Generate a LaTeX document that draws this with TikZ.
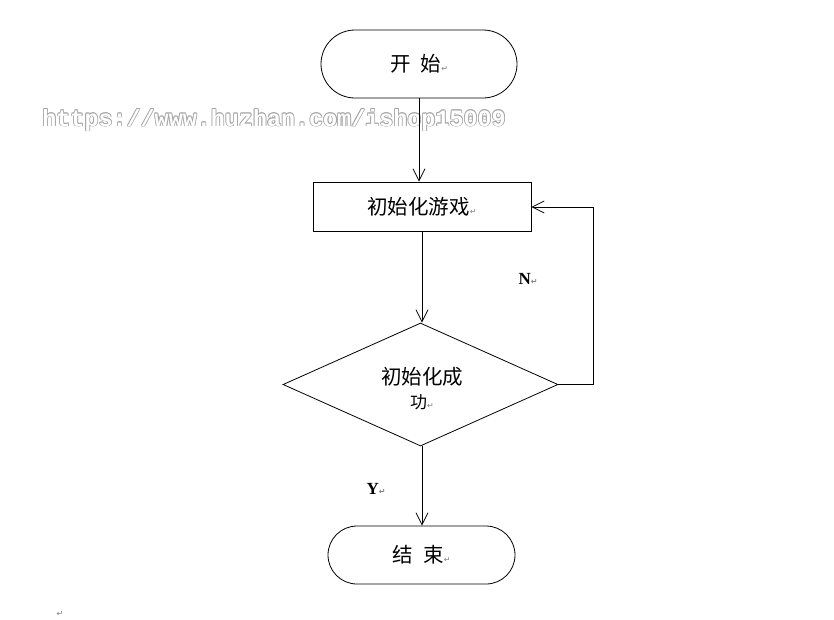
\documentclass[tikz,border=0pt]{standalone}
\usepackage{fontspec}
\setmainfont{Liberation Serif}
\newfontfamily\cjk{Noto Sans CJK SC}
\newfontfamily\dejavu{DejaVu Sans}
\newfontfamily\wmfont{Liberation Mono}
\usetikzlibrary{shapes.geometric,arrows.meta}
\newcommand{\retmark}{{\fontsize{8}{8}\dejavu\color{gray}↵}}
\begin{document}
\begin{tikzpicture}[x=1pt,y=-1pt,
  line width=0.8pt,
  arr/.style={-{Straight Barb[length=12pt,width=12pt,line width=0.8pt]}},
  cjktext/.style={font=\cjk\fontsize{20.5}{24}\selectfont},
  terminal/.style={draw,rounded corners=#1,inner sep=0pt,cjktext},
  procbox/.style={draw,inner sep=0pt,cjktext},
  decision/.style={draw,diamond,aspect=2.236,inner sep=0pt,minimum width=275pt,minimum height=123pt},
  lbl/.style={font=\bfseries\fontsize{17}{17}\selectfont,inner sep=0pt},
  wm/.style={font=\wmfont\bfseries\fontsize{23.4}{24}\selectfont,anchor=west,inner sep=0pt}
]
\useasboundingbox (0,0) rectangle (834,619);
% watermark
\foreach \dx/\dy in {-0.8/0,0.8/0,0/-0.8,0/0.8,-0.6/-0.6,0.6/0.6,-0.6/0.6,0.6/-0.6}{
  \node[wm,text=gray!70] at (42+\dx,120+\dy) {https://www.huzhan.com/ishop15009};
}
\node[wm,text=white] (wmark) at (42,120) {https://www.huzhan.com/ishop15009};

\node[terminal=34pt,minimum width=196pt,minimum height=68pt] (start) at (419,64) {开\hspace{0.5em}始\retmark};
\node[procbox,minimum width=218pt,minimum height=49pt] (init) at (422,206.5) {初始化游戏\retmark};
\node[decision] (dec) at (420.5,384.5) {};
\node[cjktext,align=center,inner sep=0pt] (dectext) at (422,389) {初始化成\\[0pt]{\fontsize{17}{17}\selectfont 功}\retmark};
\node[terminal=29pt,minimum width=187pt,minimum height=58pt] (stop) at (421.5,555) {结\hspace{0.5em}束\retmark};

\coordinate (loopa) at (593,384.5);
\coordinate (loopb) at (593,207);

\draw[arr] (start.south) -- (start.south |- init.north);
\draw[arr] (init.south) -- (init.south |- dec.north);
\draw[arr] (init.south |- dec.south) -- (init.south |- stop.north);
\draw[arr] (dec.east) -- (loopa) -- (loopb) -- (init.east |- loopb);

\node[lbl] (nlab) at (528,279) {N\retmark};
\node[lbl] (ylab) at (376,489) {Y\retmark};
\node[inner sep=0pt] (endmark) at (60,614) {\retmark};
\end{tikzpicture}
\end{document}
